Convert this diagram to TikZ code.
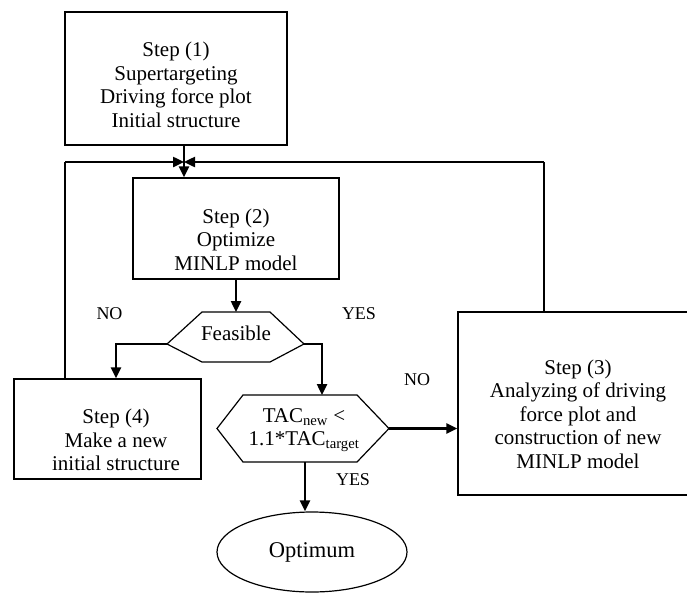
\documentclass[tikz,border=0pt]{standalone}
\usepackage{fontspec}
\setmainfont{Liberation Serif}
\usetikzlibrary{arrows.meta,shapes.geometric}
\begin{document}
\begin{tikzpicture}[x=1pt,y=-1pt,
  box/.style={draw, line width=1.2pt, inner sep=0pt},
  txt/.style={align=center, font=\fontsize{21}{23.5}\selectfont, inner sep=0pt},
  lbl/.style={font=\fontsize{18}{20}\selectfont, inner sep=0pt},
  conn/.style={line width=2.4pt},
  arr/.style={conn, -{Triangle[length=11pt,width=10pt]}},
  thinline/.style={line width=1.3pt},
  hexa/.style={line width=1.2pt, line join=miter}]
\clip (0,0) rectangle (687,594);
% boxes
\node[box, minimum width=222pt, minimum height=133pt] (s1) at (176,78.5) {};
\node[txt] (s1t) at (176,85) {Step (1)\\Supertargeting\\Driving force plot\\Initial structure};
\node[box, minimum width=206pt, minimum height=101pt] (s2) at (236,228.5) {};
\node[txt] (s2t) at (236,239.5) {Step (2)\\Optimize\\MINLP model};
\node[box, minimum width=187pt, minimum height=100pt] (s4) at (107.5,429) {};
\node[txt] (s4t) at (116,440) {Step (4)\\Make a new\\initial structure};
\node[box, minimum width=242pt, minimum height=183pt] (s3) at (579,403.5) {};
\node[txt] (s3t) at (578,414) {Step (3)\\Analyzing of driving\\force plot and\\construction of new\\MINLP model};
% feasible hexagon
\coordinate (feasL) at (167,344);
\coordinate (feasR) at (304,344);
\coordinate (feasT) at (236,312);
\draw[hexa] (feasL) -- (202,312) -- (270,312) -- (feasR) -- (270,362) -- (202,362) -- cycle;
\node[txt] (feas) at (236,333) {Feasible};
% TAC hexagon
\coordinate (tacL) at (217,428.5);
\coordinate (tacR) at (389,428.5);
\coordinate (tacT) at (322,395);
\coordinate (tacB) at (305,462);
\draw[hexa] (tacL) -- (243,395) -- (357,395) -- (tacR) -- (357,462) -- (243,462) -- cycle;
\node[txt] (tac) at (304,430) {TAC\textsubscript{new} <\\1.1*TAC\textsubscript{target}};
% optimum
\node[draw, ellipse, line width=1.2pt, minimum width=190pt, minimum height=80pt, inner sep=0pt,
  font=\fontsize{22.5}{25}\selectfont] (opt) at (312,552) {Optimum};
% junction
\coordinate (j) at (184,162);
\coordinate (jl) at (65,162);
\coordinate (jr) at (544,162);
% connectors
\draw[arr] (s1.south -| j) -- (s2.north -| j);
\draw[thinline] (s4.north -| jl) -- (jl);
\draw[arr] (jl) -- (j);
\draw[thinline] (s3.north -| jr) -- (jr);
\draw[arr] (jr) -- (j);
\draw[arr] (s2.south) -- (feasT);
\draw[arr] (feasL) -| ([xshift=8.5pt]s4.north);
\draw[arr] (feasR) -| (tacT);
\draw[arr] (tacR) -- (s3.west |- tacR);
\draw[arr] (tacB) -- (opt.north -| tacB);
% labels
\node[lbl] (no1) at (109.5,314) {NO};
\node[lbl] (yes1) at (359,314) {YES};
\node[lbl] (no2) at (417,380) {NO};
\node[lbl] (yes2) at (353,480) {YES};
\end{tikzpicture}
\end{document}
